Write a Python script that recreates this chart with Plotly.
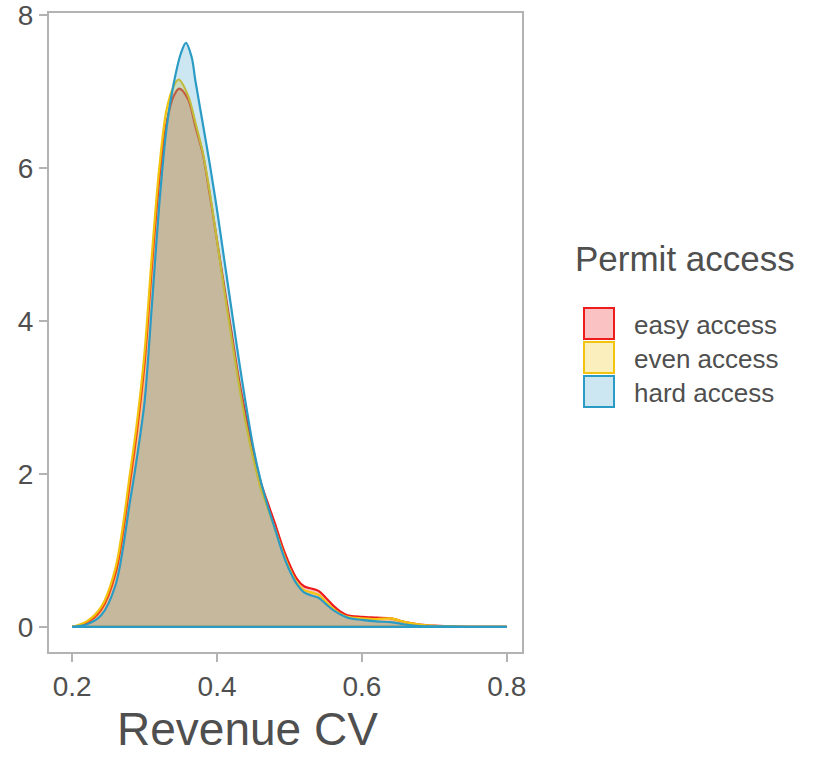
import plotly.graph_objects as go

# ---- data ----
series_names = ["easy access", "even access", "hard access"]

easy_x = [0.20, 0.22, 0.24, 0.26, 0.28, 0.29, 0.30, 0.31, 0.32, 0.33, 0.34, 0.348, 0.36, 0.37, 0.38,
          0.39, 0.40, 0.41, 0.42, 0.43, 0.44, 0.45, 0.46, 0.47, 0.48, 0.49, 0.50, 0.51, 0.52, 0.53,
          0.54, 0.55, 0.56, 0.57, 0.58, 0.60, 0.62, 0.64, 0.66, 0.68, 0.70, 0.72, 0.75, 0.80]
easy_y = [0.0, 0.05, 0.22, 0.70, 1.90, 2.60, 3.45, 4.70, 5.82, 6.58, 6.94, 7.04, 6.90, 6.55, 6.20,
          5.65, 5.05, 4.45, 3.85, 3.25, 2.75, 2.30, 1.90, 1.62, 1.35, 1.06, 0.82, 0.63, 0.53, 0.50,
          0.47, 0.38, 0.28, 0.20, 0.15, 0.13, 0.12, 0.11, 0.06, 0.03, 0.015, 0.008, 0.0, 0.0]

even_x = [0.20, 0.22, 0.24, 0.26, 0.28, 0.29, 0.30, 0.31, 0.32, 0.33, 0.34, 0.347, 0.36, 0.37, 0.38,
          0.39, 0.40, 0.41, 0.42, 0.43, 0.44, 0.45, 0.46, 0.47, 0.48, 0.49, 0.50, 0.51, 0.52, 0.53,
          0.54, 0.55, 0.56, 0.57, 0.58, 0.60, 0.62, 0.64, 0.66, 0.68, 0.70, 0.72, 0.75, 0.80]
even_y = [0.0, 0.07, 0.26, 0.78, 2.02, 2.72, 3.60, 4.86, 5.98, 6.75, 7.07, 7.16, 6.95, 6.60, 6.22,
          5.68, 5.05, 4.40, 3.78, 3.18, 2.65, 2.20, 1.82, 1.55, 1.28, 1.00, 0.76, 0.58, 0.48, 0.45,
          0.42, 0.33, 0.24, 0.17, 0.13, 0.11, 0.10, 0.11, 0.06, 0.03, 0.012, 0.005, 0.0, 0.0]

hard_x = [0.20, 0.22, 0.24, 0.26, 0.28, 0.29, 0.30, 0.31, 0.32, 0.33, 0.34, 0.35, 0.357, 0.365, 0.37,
          0.38, 0.39, 0.40, 0.41, 0.42, 0.43, 0.44, 0.45, 0.46, 0.47, 0.48, 0.49, 0.50, 0.51, 0.52,
          0.53, 0.54, 0.55, 0.56, 0.58, 0.60, 0.62, 0.64, 0.66, 0.68, 0.70, 0.75, 0.80]
hard_y = [0.0, 0.03, 0.15, 0.55, 1.65, 2.25, 2.95, 4.20, 5.50, 6.50, 7.10, 7.50, 7.64, 7.45, 7.15,
          6.60, 6.05, 5.45, 4.80, 4.15, 3.50, 2.90, 2.35, 1.92, 1.58, 1.28, 0.98, 0.74, 0.56, 0.45,
          0.41, 0.38, 0.30, 0.22, 0.12, 0.09, 0.07, 0.06, 0.03, 0.01, 0.005, 0.0, 0.0]

x_ticks = [0.2, 0.4, 0.6, 0.8]
y_ticks = [0, 2, 4, 6, 8]

line_colors = ["#EE1C1C", "#F2C40F", "#2A9BC4"]
fill_colors = ["rgba(238,28,28,0.27)", "rgba(242,196,15,0.27)", "rgba(42,155,196,0.24)"]

xs = [easy_x, even_x, hard_x]
ys = [easy_y, even_y, hard_y]

FONT = "Liberation Sans, Arial, sans-serif"
TXT = "#4f4f4f"

fig = go.Figure()
for name, x, y, lc, fc in zip(series_names, xs, ys, line_colors, fill_colors):
    fig.add_trace(go.Scatter(
        x=x, y=y, mode="lines", name=name, fill="tozeroy", fillcolor=fc,
        line=dict(color=lc, width=2.2, shape="spline", smoothing=0.9),
        showlegend=False, hoverinfo="skip"))
    # baseline of the density outline (ggplot draws the closed polygon)
    fig.add_trace(go.Scatter(
        x=[x[0], x[-1]], y=[y[0], y[-1]], mode="lines", line=dict(color=lc, width=2.2),
        showlegend=False, hoverinfo="skip"))

# ---- custom legend (square keys like ggplot) ----
W, H = 817, 759
ml, mr, mt, mb = 49, 295, 13, 107
pw, ph = W - ml - mr, H - mt - mb

def px2x(p):
    return (p - ml) / pw

def py2y(p):
    return (H - mb - p) / ph

shapes = []
annotations = []
annotations.append(dict(text="Permit access", x=px2x(573), y=py2y(258), xref="paper", yref="paper",
                        xanchor="left", yanchor="middle", showarrow=False,
                        font=dict(family=FONT, size=35, color=TXT)))
key_top = 307
key_h = 34
for i, (name, lc, fc) in enumerate(zip(series_names, line_colors, fill_colors)):
    t = key_top + i * key_h
    shapes.append(dict(type="rect", xref="paper", yref="paper",
                       x0=px2x(584), x1=px2x(614), y0=py2y(t + 1), y1=py2y(t + key_h - 2),
                       fillcolor=fc, line=dict(color=lc, width=2)))
    annotations.append(dict(text=name, x=px2x(632), y=py2y(t + key_h / 2 + 1), xref="paper", yref="paper",
                            xanchor="left", yanchor="middle", showarrow=False,
                            font=dict(family=FONT, size=26, color=TXT)))

annotations.append(dict(text="Revenue CV", x=px2x(247), y=py2y(729), xref="paper", yref="paper",
                        xanchor="center", yanchor="middle", showarrow=False,
                        font=dict(family=FONT, size=46, color=TXT)))

axis_common = dict(showgrid=False, zeroline=False, showline=True, linecolor="#b3b3b3", linewidth=2,
                   mirror=True, ticks="outside", ticklen=8, tickwidth=1.5, tickcolor="#b3b3b3",
                   automargin=False, tickfont=dict(family=FONT, size=28, color=TXT))

fig.update_layout(
    width=W, height=H,
    margin=dict(l=ml, r=mr, t=mt, b=mb, pad=0, autoexpand=False),
    paper_bgcolor="white", plot_bgcolor="white",
    xaxis=dict(range=[0.168, 0.821], tickvals=x_ticks, ticktext=[f"{v:.1f}" for v in x_ticks], **axis_common),
    yaxis=dict(range=[-0.33, 8.03], tickvals=y_ticks, **axis_common),
    shapes=shapes, annotations=annotations, showlegend=False,
)

fig.write_html("out.html")
